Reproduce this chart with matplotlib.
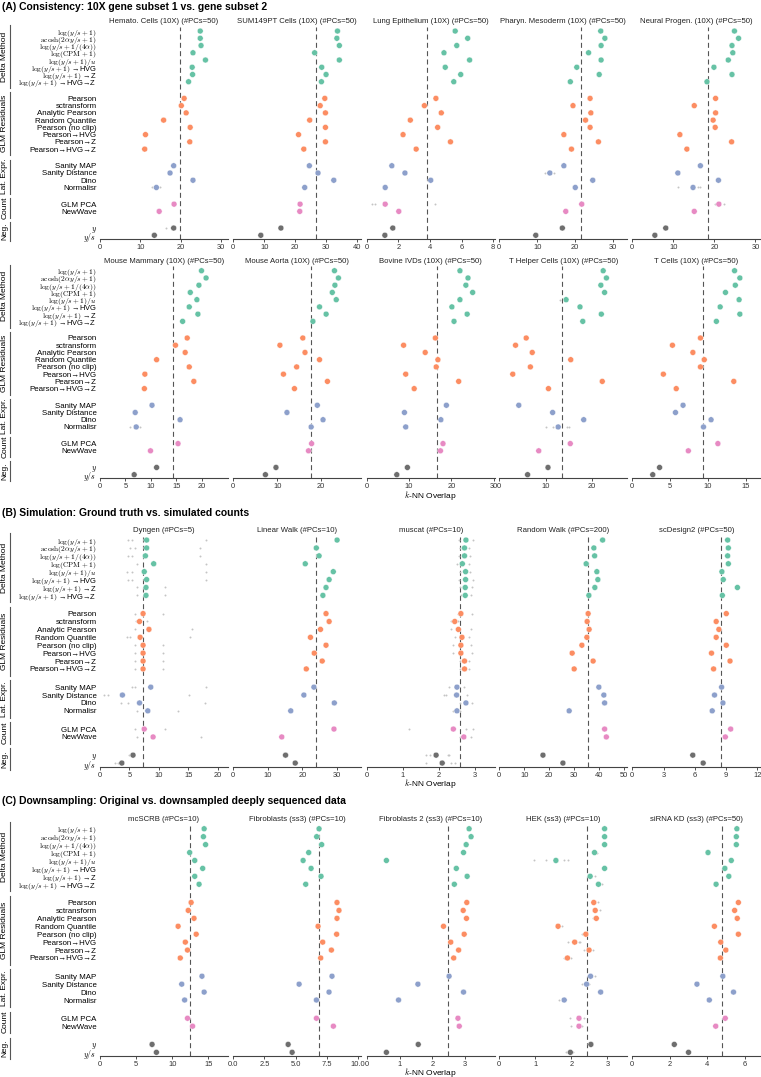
import matplotlib
matplotlib.use("Agg")
import matplotlib.pyplot as plt
from matplotlib.transforms import blended_transform_factory

plt.rcParams['font.family'] = ['Liberation Sans', 'DejaVu Sans']
plt.rcParams['mathtext.fontset'] = 'cm'

# ---------------- data ----------------
methods = [
    r"$\log(y/s+1)$", r"$\mathrm{acosh}(2\alpha y/s+1)$", r"$\log(y/s+1/(4\alpha))$",
    r"$\log(\mathrm{CPM}+1)$", r"$\log(y/s+1)/u$", r"$\log(y/s+1)$ →HVG",
    r"$\log(y/s+1)$ →Z", r"$\log(y/s+1)$ →HVG→Z",
    "Pearson", "sctransform", "Analytic Pearson", "Random Quantile",
    "Pearson (no clip)", "Pearson→HVG", "Pearson→Z", "Pearson→HVG→Z",
    "Sanity MAP", "Sanity Distance", "Dino", "Normalisr",
    "GLM PCA", "NewWave",
    r"$y$", r"$y/s$",
]
groups = ["Delta Method", "GLM Residuals", "Lat. Expr.", "Count", "Neg."]
group_sizes = [8, 8, 4, 2, 2]
group_colors = ["#66c2a5", "#fc8d62", "#8da0cb", "#e78ac3", "#6e6e6e"]

# Section A, row 1
hemato = [24.9, 24.9, 25.1, 23.1, 26.2, 22.9, 23.0, 22.0, 20.9, 20.2, 21.4, 15.8, 22.4, 11.3, 22.3, 11.1, 18.3, 17.4, 23.1, 14.0, 18.4, 14.7, 18.3, 13.5]
sum149 = [33.7, 33.5, 34.3, 26.3, 34.3, 28.6, 30.0, 28.5, 29.6, 28.1, 29.8, 24.7, 29.8, 21.1, 29.8, 22.8, 24.6, 27.4, 32.5, 23.1, 21.6, 21.5, 15.4, 8.9]
lung = [5.6, 6.39, 5.7, 4.89, 6.51, 4.97, 5.95, 5.51, 4.38, 3.65, 4.72, 2.76, 4.49, 2.30, 5.30, 3.13, 1.59, 2.42, 4.05, 1.17, 1.17, 2.03, 1.65, 1.15]
pharyn = [26.7, 27.8, 26.8, 23.5, 26.8, 20.4, 26.3, 18.7, 23.9, 19.4, 24.1, 22.7, 23.9, 17.0, 26.1, 19.0, 17.0, 13.3, 24.6, 20.0, 21.7, 17.5, 16.6, 9.6]
neural = [24.9, 25.9, 24.3, 24.5, 23.4, 19.9, 24.3, 18.2, 20.3, 15.1, 20.3, 19.7, 20.2, 11.6, 24.2, 13.3, 16.6, 11.1, 21.0, 14.8, 21.1, 15.1, 8.15, 5.5]
# Section A, row 2
mammary = [19.9, 20.8, 19.4, 17.7, 19.0, 17.5, 19.2, 16.2, 17.1, 14.8, 16.7, 11.1, 17.5, 8.8, 18.4, 8.7, 10.2, 6.9, 15.7, 7.1, 15.3, 9.9, 11.1, 6.7]
aorta = [23.0, 23.9, 23.1, 22.5, 23.4, 19.6, 21.1, 18.1, 15.8, 10.6, 16.3, 19.6, 14.4, 11.4, 21.4, 13.9, 19.1, 12.2, 20.4, 17.7, 17.8, 17.1, 9.7, 7.3]
bovine = [22.0, 23.9, 23.4, 25.0, 22.0, 20.1, 23.7, 20.6, 16.2, 8.7, 13.8, 16.8, 16.4, 9.2, 21.7, 11.2, 18.8, 8.9, 17.5, 9.2, 18.0, 17.4, 9.6, 7.1]
thelper = [22.4, 23.1, 21.9, 22.7, 14.4, 17.4, 22.0, 18.0, 5.8, 3.5, 7.1, 15.4, 6.7, 2.9, 22.2, 10.6, 4.2, 11.5, 18.2, 12.7, 15.3, 8.5, 10.5, 6.1]
tcells = [13.5, 14.2, 13.6, 12.3, 14.1, 11.6, 14.2, 11.1, 9.0, 5.3, 8.0, 9.5, 9.0, 4.1, 13.4, 5.8, 6.7, 5.7, 10.4, 9.4, 11.3, 7.4, 3.6, 2.7]
# Section B
dyngen = [7.9, 7.9, 7.7, 9.1, 7.5, 7.9, 7.8, 7.8, 7.3, 6.7, 8.3, 6.8, 7.3, 7.3, 7.3, 7.3, 8.6, 3.8, 6.7, 8.1, 7.5, 9.0, 5.6, 3.7]
linwalk = [30.0, 24.0, 24.8, 20.8, 28.9, 27.7, 26.8, 25.9, 26.8, 27.7, 25.2, 22.3, 26.8, 23.4, 25.7, 21.1, 23.3, 20.4, 29.2, 16.6, 29.1, 14.0, 15.1, 17.9]
muscat = [2.76, 2.72, 2.72, 2.66, 2.75, 2.75, 2.74, 2.74, 2.62, 2.45, 2.55, 2.65, 2.62, 2.62, 2.72, 2.72, 2.51, 2.50, 2.76, 2.51, 2.41, 2.70, 1.93, 2.10]
randwalk = [41.4, 37.9, 38.2, 34.8, 39.1, 39.5, 38.3, 35.9, 35.6, 35.2, 36.0, 35.1, 33.1, 29.2, 37.6, 30.0, 39.9, 41.9, 42.2, 28.0, 42.2, 42.9, 17.5, 25.5]
scdesign2 = [9.16, 9.23, 9.16, 9.23, 8.61, 8.74, 10.1, 8.65, 9.03, 8.06, 8.32, 8.06, 9.03, 7.61, 9.39, 7.81, 8.58, 7.90, 8.71, 7.68, 9.45, 8.94, 5.81, 6.81]
# Section C
mcscrb = [14.4, 14.3, 14.6, 12.4, 13.1, 14.2, 13.1, 13.7, 12.6, 12.2, 13.0, 10.8, 13.3, 11.8, 12.1, 11.1, 14.1, 11.3, 14.4, 11.7, 12.1, 12.8, 7.2, 7.8]
fibro = [6.88, 6.69, 7.09, 6.05, 5.6, 6.24, 7.04, 5.81, 8.32, 8.48, 8.32, 6.8, 8.29, 7.17, 7.87, 7.01, 7.92, 5.28, 7.68, 6.67, 6.67, 8.03, 4.4, 4.72]
fibro2 = [3.12, 3.18, 3.03, 2.95, 0.6, 2.73, 3.06, 2.67, 3.05, 2.94, 3.04, 2.34, 2.97, 2.56, 2.8, 2.65, 2.51, 1.56, 2.95, 0.97, 2.78, 2.82, 1.57, 0.6]
hek = [2.92, 2.92, 2.92, 2.64, 1.57, 2.92, 2.52, 2.75, 2.62, 2.66, 2.69, 1.63, 2.4, 2.09, 2.49, 1.89, 2.53, 2.42, 2.81, 1.8, 2.21, 2.21, 2.54, 1.97]
sirna = [5.58, 5.55, 5.55, 4.04, 5.28, 4.94, 5.15, 4.47, 5.66, 5.46, 5.6, 4.38, 5.66, 4.72, 4.99, 4.7, 4.83, 3.45, 5.4, 4.11, 4.96, 4.45, 2.24, 3.0]

# reference (dashed) lines
refs_a1 = [19.9, 26.7, 3.8, 21.4, 18.5]
refs_a2 = [14.4, 17.6, 16.7, 13.5, 9.4]
refs_b = [7.3, 23.8, 2.59, 35.6, 8.5]
refs_c = [12.4, 6.88, 2.47, 2.42, 4.77]

titles_a1 = ["Hemato. Cells (10X) (#PCs=50)", "SUM149PT Cells (10X) (#PCs=50)", "Lung Epithelium (10X) (#PCs=50)",
             "Pharyn. Mesoderm (10X) (#PCs=50)", "Neural Progen. (10X) (#PCs=50)"]
titles_a2 = ["Mouse Mammary (10X) (#PCs=50)", "Mouse Aorta (10X) (#PCs=50)", "Bovine IVDs (10X) (#PCs=50)",
             "T Helper Cells (10X) (#PCs=50)", "T Cells (10X) (#PCs=50)"]
titles_b = ["Dyngen (#PCs=5)", "Linear Walk (#PCs=10)", "muscat (#PCs=10)", "Random Walk (#PCs=200)", "scDesign2 (#PCs=50)"]
titles_c = ["mcSCRB (#PCs=10)", "Fibroblasts (ss3) (#PCs=10)", "Fibroblasts 2 (ss3) (#PCs=10)",
            "HEK (ss3) (#PCs=10)", "siRNA KD (ss3) (#PCs=50)"]

ticks_a1 = [[0, 10, 20, 30], [0, 10, 20, 30, 40], [0, 2, 4, 6, 8], [0, 10, 20, 30], [0, 10, 20, 30]]
ticks_a2 = [[0, 5, 10, 15, 20], [0, 10, 20], [0, 10, 20, 30], [0, 10, 20], [0, 5, 10, 15]]
ticks_b = [[0, 5, 10, 15, 20], [0, 10, 20, 30], [0, 1, 2, 3], [0, 10, 20, 30, 40, 50], [0, 3, 6, 9, 12]]
ticks_c = [[0, 5, 10, 15], [0.0, 2.5, 5.0, 7.5, 10.0], [0, 1, 2, 3], [0, 1, 2, 3], [0, 2, 4, 6]]
xmax_a1 = [31.8, 41.4, 8.1, 33.7, 31.2]
xmax_a2 = [25.1, 29.1, 30.2, 27.6, 16.9]
xmax_b = [21.7, 37.0, 3.56, 51.3, 12.3]
xmax_c = [17.7, 10.27, 3.9, 3.55, 6.83]

# individual replicate runs (small grey points), per row
dyngen_reps = [[4.8, 5.4, 18.0], [5.1, 5.9, 16.9], [4.8, 5.5, 17.0], [6.2, 18.0], [4.5, 5.4, 17.9],
               [4.8, 5.5, 17.9], [6.2, 11.1], [6.2, 11.1], [5.9, 10.7], [6.1, 8.0], [5.9, 15.6],
               [4.5, 5.1, 15.3], [5.9, 10.7], [5.9, 10.7], [5.9, 10.6], [5.9, 10.6], [5.4, 6.0, 17.9],
               [0.6, 1.4, 15.1], [3.6, 4.8, 17.8], [6.2, 13.2], [5.9, 11.0], [6.3, 17.1], [5.0], [2.5, 3.0]]
muscat_reps = [[2.58, 2.95], [2.6, 2.85], [2.58, 2.87], [2.5, 2.85], [2.6, 2.88], [2.58, 2.95],
               [2.6, 2.92], [2.62, 2.9], [2.55, 2.92], [2.35, 2.55], [2.35, 2.9], [2.45, 2.85],
               [2.4, 2.9], [2.4, 2.92], [2.6, 2.85], [2.6, 2.85], [2.3, 2.7], [2.15, 2.2, 2.8],
               [2.6, 2.92], [2.4, 2.6], [1.19, 2.75, 2.95], [2.6, 2.9], [1.65, 1.75, 2.25, 2.3],
               [1.65, 2.35, 2.45]]
hek_reps = [[], [], [], [2.7], [0.95, 1.3, 1.8, 1.9], [], [2.65], [2.85], [2.75], [2.8], [2.6],
            [1.75], [2.3], [1.9, 2.2, 2.25], [2.35, 2.6], [1.8, 2.0], [2.65], [2.3, 2.5], [],
            [1.65], [1.95, 2.35], [2.0, 2.3], [], [1.85, 2.05]]
lung_reps = {20: [0.35, 0.5, 4.35]}
neural_reps = {19: [11.2, 16.0, 16.5], 20: [20.2, 22.3]}
thelper_reps = {4: [13.0], 19: [10.0, 11.5, 14.5, 15.0]}
hemato_reps = {19: [13.0, 15.0], 22: [16.5]}
pharyn_reps = {17: [12.0, 14.3]}
mammary_reps = {19: [5.9, 7.9]}

# ---------------- layout ----------------
W, H = 761, 1077
fig = plt.figure(figsize=(W / 100, H / 100), dpi=100)

gap = 2.3
ypos = []
start = 0.0
for gs in group_sizes:
    ypos.extend([start + k for k in range(gs)])
    start = start + gs - 1 + gap
gstarts = []
idx = 0
for gs in group_sizes:
    gstarts.append((ypos[idx], ypos[idx + gs - 1]))
    idx += gs
colors = []
for gs, c in zip(group_sizes, group_colors):
    colors.extend([c] * gs)

ylim = (ypos[-1] + 0.5, -0.6)
panel_left = [100, 233.3, 366.7, 499.3, 632.3]
panel_w = 128

rows = [
    dict(top=26.7, bot=238.9, data=[hemato, sum149, lung, pharyn, neural], titles=titles_a1,
         refs=refs_a1, ticks=ticks_a1, xmax=xmax_a1, xlabel_y=None,
         reps=[hemato_reps, {}, lung_reps, pharyn_reps, neural_reps]),
    dict(top=266.4, bot=478.3, data=[mammary, aorta, bovine, thelper, tcells], titles=titles_a2,
         refs=refs_a2, ticks=ticks_a2, xmax=xmax_a2, xlabel_y=495.5,
         reps=[mammary_reps, {}, {}, thelper_reps, {}]),
    dict(top=535.3, bot=767.0, data=[dyngen, linwalk, muscat, randwalk, scdesign2], titles=titles_b,
         refs=refs_b, ticks=ticks_b, xmax=xmax_b, xlabel_y=784.0,
         reps=[dyngen_reps, {}, muscat_reps, {}, {}]),
    dict(top=824.0, bot=1056.3, data=[mcscrb, fibro, fibro2, hek, sirna], titles=titles_c,
         refs=refs_c, ticks=ticks_c, xmax=xmax_c, xlabel_y=1072.3,
         reps=[{}, {}, {}, hek_reps, {}]),
]

section_titles = [
    (7.5, "(A) Consistency: 10X gene subset 1 vs. gene subset 2"),
    (513.5, "(B) Simulation: Ground truth vs. simulated counts"),
    (801.5, "(C) Downsampling: Original vs. downsampled deeply sequenced data"),
]
for yy, t in section_titles:
    fig.text(2 / W, 1 - yy / H, t, fontsize=7.5, fontweight="bold", va="center", ha="left")

spine_col = "#444444"
for row in rows:
    for j in range(5):
        ax = fig.add_axes([panel_left[j] / W, 1 - row["bot"] / H, panel_w / W, (row["bot"] - row["top"]) / H])
        vals = row["data"][j]
        reps = row["reps"][j]
        items = reps.items() if isinstance(reps, dict) else enumerate(reps)
        for i, rv in items:
            ax.scatter(rv, [ypos[i]] * len(rv), s=2.0, color="#c4c4c4", linewidths=0, zorder=2)
        ax.axvline(row["refs"][j], color="#555555", lw=0.8, ls=(0, (4.5, 3)), zorder=1)
        ax.scatter(vals, ypos, s=18, c=colors, edgecolors="white", linewidths=0.3, zorder=3)
        ax.set_ylim(*ylim)
        ax.set_xlim(0, row["xmax"][j])
        ax.set_xticks(row["ticks"][j])
        if row is rows[3] and j == 1:
            ax.set_xticklabels(["0.0", "2.5", "5.0", "7.5", "10.0"])
        ax.tick_params(axis="x", labelsize=5.4, length=2.2, width=0.6, pad=1.5, colors="#333333")
        for s in ["top", "right", "left"]:
            ax.spines[s].set_visible(False)
        ax.spines["bottom"].set_color(spine_col)
        ax.spines["bottom"].set_linewidth(0.8)
        ax.set_title(row["titles"][j], fontsize=5.6, pad=2.5, color="#222222")
        ax.set_facecolor("none")
        if j == 0:
            ax.set_yticks(ypos)
            ax.set_yticklabels(methods, fontsize=5.7)
            for k, lab in enumerate(ax.get_yticklabels()):
                if k < 8:
                    lab.set_fontsize(5.4)
            ax.tick_params(axis="y", length=0, pad=2.5)
            tr = blended_transform_factory(fig.transFigure, ax.transData)
            for (g0, g1), gname in zip(gstarts, groups):
                ax.plot([10 / W, 10 / W], [g0 - 0.85, g1 + 0.85], transform=tr, color="#555555",
                        lw=0.8, clip_on=False)
                ax.text(4.8 / W, (g0 + g1) / 2, gname, transform=tr, rotation=90, fontsize=6,
                        ha="center", va="center")
        else:
            ax.set_yticks([])
    if row["xlabel_y"] is not None:
        cx = panel_left[2] + panel_w / 2
        fig.text(cx / W, 1 - row["xlabel_y"] / H, r"$k$-NN Overlap", fontsize=6,
                 ha="center", va="center")

fig.savefig("out.png", dpi=100)
